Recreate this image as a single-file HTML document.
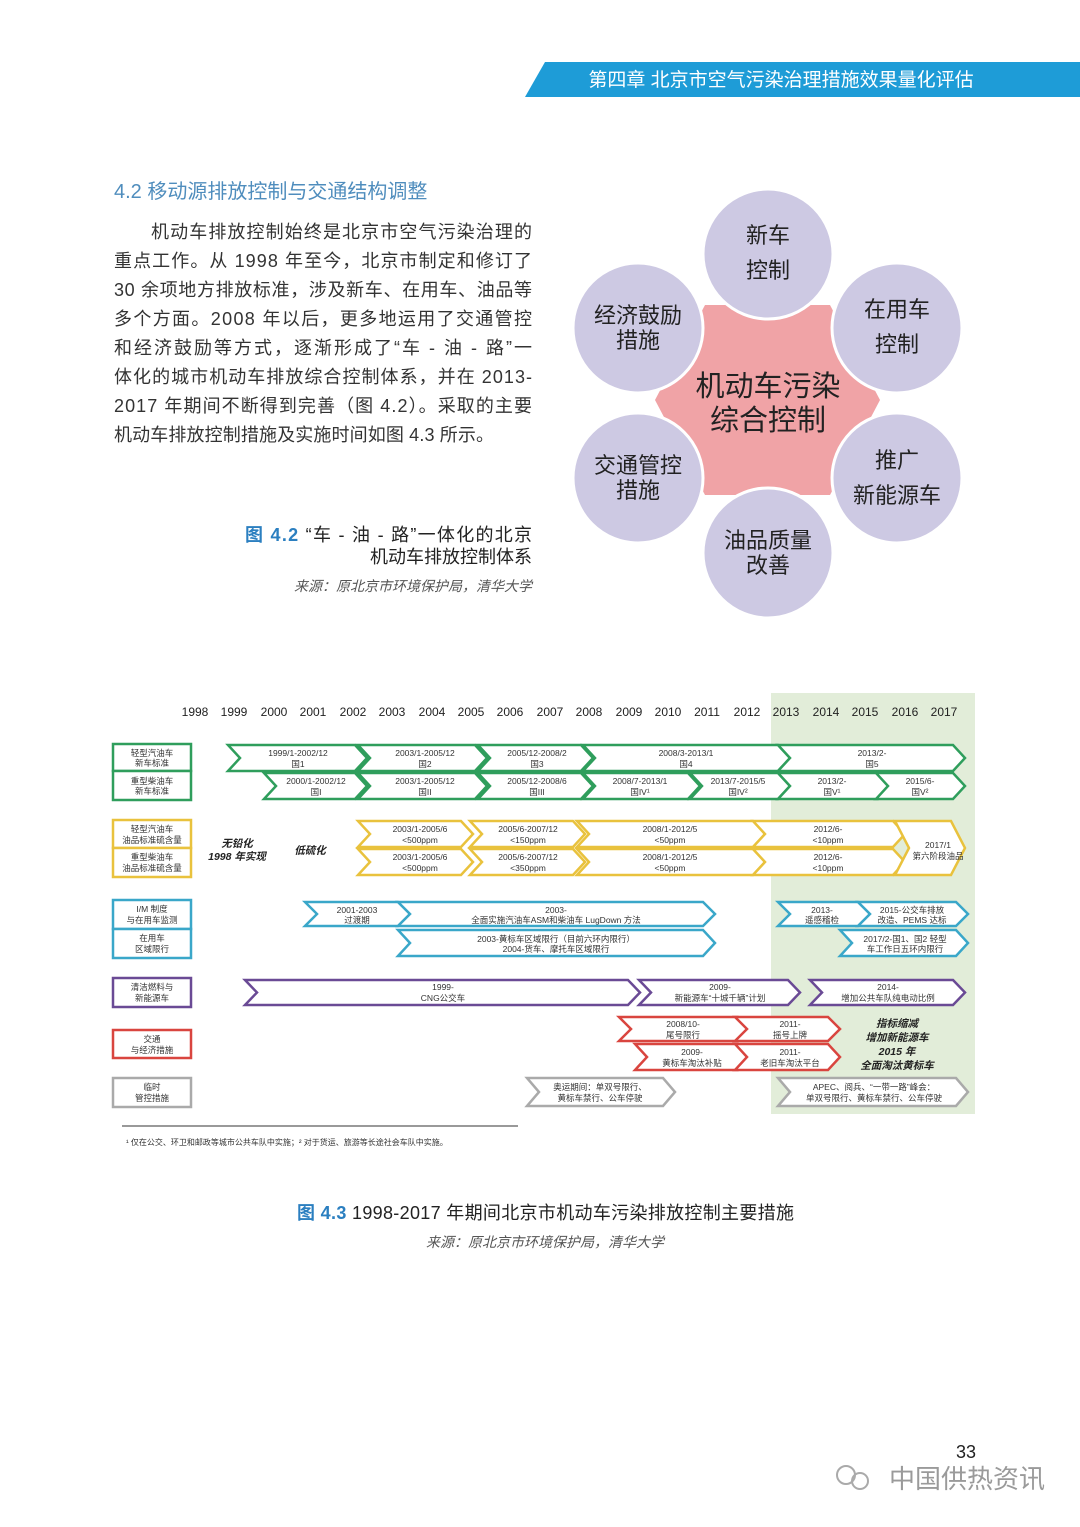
<!DOCTYPE html>
<html><head><meta charset="utf-8"><style>
body{margin:0;background:#fff}
svg{display:block}
text{font-family:"Liberation Sans","Noto Sans CJK SC",sans-serif}
.s{font-size:8.5px;fill:#333;text-anchor:middle}
.lb{font-size:8.5px;fill:#333;text-anchor:middle}
.y{font-size:12px;fill:#222;text-anchor:middle}
.b{font-size:18px;fill:#333}
.g{fill:#fff;stroke:#2f9e5c;stroke-width:2.5}
.o{fill:#fff;stroke:#e9c23d;stroke-width:2.5}
.c{fill:#fff;stroke:#3aa7c9;stroke-width:2.5}
.p{fill:#fff;stroke:#6a4a95;stroke-width:2.5}
.r{fill:#fff;stroke:#d9453f;stroke-width:2.5}
.k{fill:#fff;stroke:#aaa;stroke-width:2.5}
.ft{font-size:22px;fill:#222;text-anchor:middle}
</style></head><body>
<svg width="1080" height="1527" viewBox="0 0 1080 1527">
<polygon points="545,62 1080,62 1080,97 525,97" fill="#1e9cd7"/>
<text x="781" y="86" font-size="19" fill="#fff" text-anchor="middle">第四章 北京市空气污染治理措施效果量化评估</text>

<text x="114" y="198" font-size="20" fill="#4f8dbd">4.2 移动源排放控制与交通结构调整</text>
<text class="b" x="151" y="238" textLength="381">机动车排放控制始终是北京市空气污染治理的</text>
<text class="b" x="114" y="267" textLength="418">重点工作。从 1998 年至今，北京市制定和修订了</text>
<text class="b" x="114" y="296" textLength="418">30 余项地方排放标准，涉及新车、在用车、油品等</text>
<text class="b" x="114" y="325" textLength="418">多个方面。2008 年以后，更多地运用了交通管控</text>
<text class="b" x="114" y="354" textLength="418">和经济鼓励等方式，逐渐形成了“车 - 油 - 路”一</text>
<text class="b" x="114" y="383" textLength="418">体化的城市机动车排放综合控制体系，并在 2013-</text>
<text class="b" x="114" y="412" textLength="418">2017 年期间不断得到完善（图 4.2）。采取的主要</text>
<text class="b" x="114" y="441" textLength="380">机动车排放控制措施及实施时间如图 4.3 所示。</text>

<text x="245" y="541" font-size="18" fill="#222" textLength="287"><tspan fill="#2b7fc0" font-weight="bold">图 4.2</tspan>  “车 - 油 - 路”一体化的北京</text>
<text x="532" y="563" font-size="18" fill="#222" text-anchor="end">机动车排放控制体系</text>
<text x="532" y="591" font-size="14" fill="#555" text-anchor="end" font-style="italic" font-family="Liberation Serif,Noto Serif CJK SC,serif">来源：原北京市环境保护局，清华大学</text>

<polygon points="655,400 705,305 830,305 880,400 830,495 705,495" fill="#f0a3a6"/>
<g fill="#cdc9e3" stroke="#fff" stroke-width="3">
<circle cx="768" cy="254" r="65"/><circle cx="897" cy="328" r="65"/><circle cx="897" cy="478" r="65"/>
<circle cx="768" cy="553" r="65"/><circle cx="638" cy="478" r="65"/><circle cx="638" cy="328" r="65"/>
</g>
<text class="ft" x="768" y="243">新车</text><text class="ft" x="768" y="278">控制</text>
<text class="ft" x="897" y="317">在用车</text><text class="ft" x="897" y="352">控制</text>
<text class="ft" x="897" y="468">推广</text><text class="ft" x="897" y="503">新能源车</text>
<text class="ft" x="768" y="548">油品质量</text><text class="ft" x="768" y="573">改善</text>
<text class="ft" x="638" y="323">经济鼓励</text><text class="ft" x="638" y="348">措施</text>
<text class="ft" x="638" y="473">交通管控</text><text class="ft" x="638" y="498">措施</text>
<text x="768" y="396" font-size="29" fill="#222" text-anchor="middle">机动车污染</text>
<text x="768" y="430" font-size="29" fill="#222" text-anchor="middle">综合控制</text>

<rect x="771" y="693" width="204" height="421" fill="#e2edd9"/>
<g class="y">
<text class="y" x="195" y="716">1998</text><text class="y" x="234" y="716">1999</text><text class="y" x="274" y="716">2000</text><text class="y" x="313" y="716">2001</text><text class="y" x="353" y="716">2002</text><text class="y" x="392" y="716">2003</text><text class="y" x="432" y="716">2004</text><text class="y" x="471" y="716">2005</text><text class="y" x="510" y="716">2006</text><text class="y" x="550" y="716">2007</text><text class="y" x="589" y="716">2008</text><text class="y" x="629" y="716">2009</text><text class="y" x="668" y="716">2010</text><text class="y" x="707" y="716">2011</text><text class="y" x="747" y="716">2012</text><text class="y" x="786" y="716">2013</text><text class="y" x="826" y="716">2014</text><text class="y" x="865" y="716">2015</text><text class="y" x="905" y="716">2016</text><text class="y" x="944" y="716">2017</text>
</g>

<rect class="g" x="113" y="744" width="78" height="27"/><rect class="g" x="113" y="771" width="78" height="29"/>
<text class="lb" x="152" y="756">轻型汽油车</text><text class="lb" x="152" y="766">新车标准</text>
<text class="lb" x="152" y="784">重型柴油车</text><text class="lb" x="152" y="794">新车标准</text>
<rect class="o" x="113" y="820" width="78" height="28"/><rect class="o" x="113" y="848" width="78" height="29"/>
<text class="lb" x="152" y="832">轻型汽油车</text><text class="lb" x="152" y="843">油品标准硫含量</text>
<text class="lb" x="152" y="860">重型柴油车</text><text class="lb" x="152" y="871">油品标准硫含量</text>
<rect class="c" x="113" y="900" width="78" height="29"/><rect class="c" x="113" y="929" width="78" height="29"/>
<text class="lb" x="152" y="912">I/M 制度</text><text class="lb" x="152" y="923">与在用车监测</text>
<text class="lb" x="152" y="941">在用车</text><text class="lb" x="152" y="952">区域限行</text>
<rect class="p" x="113" y="978" width="78" height="29"/>
<text class="lb" x="152" y="990">清洁燃料与</text><text class="lb" x="152" y="1001">新能源车</text>
<rect class="r" x="113" y="1030" width="78" height="28"/>
<text class="lb" x="152" y="1042">交通</text><text class="lb" x="152" y="1053">与经济措施</text>
<rect class="k" x="113" y="1078" width="78" height="29"/>
<text class="lb" x="152" y="1090">临时</text><text class="lb" x="152" y="1101">管控措施</text>

<polygon class="g" points="228,745 355,745 367,758 355,771 228,771 240,758"/>
<polygon class="g" points="358,745 475,745 487,758 475,771 358,771 370,758"/>
<polygon class="g" points="478,745 581,745 593,758 581,771 478,771 490,758"/>
<polygon class="g" points="583,745 778,745 790,758 778,771 583,771 595,758"/>
<polygon class="g" points="778,745 953,745 965,758 953,771 778,771 790,758"/>
<text class="s" x="298" y="756">1999/1-2002/12</text><text class="s" x="298" y="767">国1</text>
<text class="s" x="425" y="756">2003/1-2005/12</text><text class="s" x="425" y="767">国2</text>
<text class="s" x="537" y="756">2005/12-2008/2</text><text class="s" x="537" y="767">国3</text>
<text class="s" x="686" y="756">2008/3-2013/1</text><text class="s" x="686" y="767">国4</text>
<text class="s" x="872" y="756">2013/2-</text><text class="s" x="872" y="767">国5</text>
<polygon class="g" points="264,773 355,773 367,786 355,799 264,799 276,786"/>
<polygon class="g" points="358,773 475,773 487,786 475,799 358,799 370,786"/>
<polygon class="g" points="478,773 581,773 593,786 581,799 478,799 490,786"/>
<polygon class="g" points="583,773 688,773 700,786 688,799 583,799 595,786"/>
<polygon class="g" points="690,773 778,773 790,786 778,799 690,799 702,786"/>
<polygon class="g" points="778,773 878,773 890,786 878,799 778,799 790,786"/>
<polygon class="g" points="876,773 953,773 965,786 953,799 876,799 888,786"/>
<text class="s" x="316" y="784">2000/1-2002/12</text><text class="s" x="316" y="795">国I</text>
<text class="s" x="425" y="784">2003/1-2005/12</text><text class="s" x="425" y="795">国II</text>
<text class="s" x="537" y="784">2005/12-2008/6</text><text class="s" x="537" y="795">国III</text>
<text class="s" x="640" y="784">2008/7-2013/1</text><text class="s" x="640" y="795">国IV¹</text>
<text class="s" x="738" y="784">2013/7-2015/5</text><text class="s" x="738" y="795">国IV²</text>
<text class="s" x="832" y="784">2013/2-</text><text class="s" x="832" y="795">国V¹</text>
<text class="s" x="920" y="784">2015/6-</text><text class="s" x="920" y="795">国V²</text>

<text x="237" y="847" font-size="10.5" font-weight="bold" font-style="italic" fill="#222" text-anchor="middle">无铅化</text>
<text x="237" y="860" font-size="10.5" font-weight="bold" font-style="italic" fill="#222" text-anchor="middle">1998 年实现</text>
<text x="310" y="854" font-size="10.5" font-weight="bold" font-style="italic" fill="#222" text-anchor="middle">低硫化</text>
<polygon class="o" points="358,821 461,821 473,834 461,847 358,847 370,834"/>
<polygon class="o" points="470,821 573,821 585,834 573,847 470,847 482,834"/>
<polygon class="o" points="577,821 753,821 765,834 753,847 577,847 589,834"/>
<polygon class="o" points="753,821 893,821 905,834 893,847 753,847 765,834"/>
<polygon class="o" points="358,849 461,849 473,862 461,875 358,875 370,862"/>
<polygon class="o" points="470,849 573,849 585,862 573,875 470,875 482,862"/>
<polygon class="o" points="577,849 753,849 765,862 753,875 577,875 589,862"/>
<polygon class="o" points="753,849 893,849 905,862 893,875 753,875 765,862"/>
<polygon class="o" points="895,821 951,821 965,848 951,875 895,875 909,848"/>
<text class="s" x="420" y="832">2003/1-2005/6</text><text class="s" x="420" y="843">&lt;500ppm</text>
<text class="s" x="528" y="832">2005/6-2007/12</text><text class="s" x="528" y="843">&lt;150ppm</text>
<text class="s" x="670" y="832">2008/1-2012/5</text><text class="s" x="670" y="843">&lt;50ppm</text>
<text class="s" x="828" y="832">2012/6-</text><text class="s" x="828" y="843">&lt;10ppm</text>
<text class="s" x="420" y="860">2003/1-2005/6</text><text class="s" x="420" y="871">&lt;500ppm</text>
<text class="s" x="528" y="860">2005/6-2007/12</text><text class="s" x="528" y="871">&lt;350ppm</text>
<text class="s" x="670" y="860">2008/1-2012/5</text><text class="s" x="670" y="871">&lt;50ppm</text>
<text class="s" x="828" y="860">2012/6-</text><text class="s" x="828" y="871">&lt;10ppm</text>
<text class="s" x="938" y="848">2017/1</text><text class="s" x="938" y="859">第六阶段油品</text>

<polygon class="c" points="305,902 398,902 410,914 398,926 305,926 317,914"/>
<polygon class="c" points="398,902 703,902 715,914 703,926 398,926 410,914"/>
<polygon class="c" points="778,902 858,902 870,914 858,926 778,926 790,914"/>
<polygon class="c" points="858,902 956,902 968,914 956,926 858,926 870,914"/>
<polygon class="c" points="398,930 703,930 715,943 703,956 398,956 410,943"/>
<polygon class="c" points="840,930 956,930 968,943 956,956 840,956 852,943"/>
<text class="s" x="357" y="913">2001-2003</text><text class="s" x="357" y="923">过渡期</text>
<text class="s" x="556" y="913">2003-</text><text class="s" x="556" y="923">全面实施汽油车ASM和柴油车 LugDown 方法</text>
<text class="s" x="822" y="913">2013-</text><text class="s" x="822" y="923">遥感稽检</text>
<text class="s" x="912" y="913">2015-公交车排放</text><text class="s" x="912" y="923">改造、PEMS 达标</text>
<text class="s" x="556" y="942">2003-黄标车区域限行（目前六环内限行）</text><text class="s" x="556" y="952">2004-货车、摩托车区域限行</text>
<text class="s" x="905" y="942">2017/2-国1、国2 轻型</text><text class="s" x="905" y="952">车工作日五环内限行</text>

<polygon class="p" points="245,980 628,980 640,992.5 628,1005 245,1005 257,992.5"/>
<polygon class="p" points="639,980 788,980 800,992.5 788,1005 639,1005 651,992.5"/>
<polygon class="p" points="810,980 953,980 965,992.5 953,1005 810,1005 822,992.5"/>
<text class="s" x="443" y="990">1999-</text><text class="s" x="443" y="1001">CNG公交车</text>
<text class="s" x="720" y="990">2009-</text><text class="s" x="720" y="1001">新能源车“十城千辆”计划</text>
<text class="s" x="888" y="990">2014-</text><text class="s" x="888" y="1001">增加公共车队纯电动比例</text>

<polygon class="r" points="619,1017 738,1017 750,1029 738,1041 619,1041 631,1029"/>
<polygon class="r" points="735,1017 828,1017 840,1029 828,1041 735,1041 747,1029"/>
<polygon class="r" points="635,1044 738,1044 750,1057 738,1070 635,1070 647,1057"/>
<polygon class="r" points="735,1044 828,1044 840,1057 828,1070 735,1070 747,1057"/>
<text class="s" x="683" y="1027">2008/10-</text><text class="s" x="683" y="1038">尾号限行</text>
<text class="s" x="790" y="1027">2011-</text><text class="s" x="790" y="1038">摇号上牌</text>
<text class="s" x="692" y="1055">2009-</text><text class="s" x="692" y="1066">黄标车淘汰补贴</text>
<text class="s" x="790" y="1055">2011-</text><text class="s" x="790" y="1066">老旧车淘汰平台</text>
<g font-size="10.5" font-weight="bold" font-style="italic" fill="#222" text-anchor="middle">
<text x="897" y="1027">指标缩减</text><text x="897" y="1041">增加新能源车</text><text x="897" y="1055">2015 年</text><text x="897" y="1069">全面淘汰黄标车</text>
</g>

<polygon class="k" points="527,1078 663,1078 675,1092 663,1106 527,1106 539,1092"/>
<polygon class="k" points="778,1078 956,1078 968,1092 956,1106 778,1106 790,1092"/>
<text class="s" x="600" y="1090">奥运期间：单双号限行、</text><text class="s" x="600" y="1101">黄标车禁行、公车停驶</text>
<text class="s" x="874" y="1090">APEC、阅兵、“一带一路”峰会：</text><text class="s" x="874" y="1101">单双号限行、黄标车禁行、公车停驶</text>

<line x1="122" y1="1126" x2="518" y2="1126" stroke="#333" stroke-width="1"/>
<text x="126" y="1145" font-size="8" fill="#333">¹ 仅在公交、环卫和邮政等城市公共车队中实施；² 对于货运、旅游等长途社会车队中实施。</text>

<text x="297" y="1219" font-size="18" fill="#222" textLength="497"><tspan fill="#2b7fc0" font-weight="bold">图 4.3</tspan> 1998-2017 年期间北京市机动车污染排放控制主要措施</text>
<text x="545" y="1247" font-size="14" fill="#555" text-anchor="middle" font-style="italic" font-family="Liberation Serif,Noto Serif CJK SC,serif">来源：原北京市环境保护局，清华大学</text>

<text x="966" y="1458" font-size="18" fill="#222" text-anchor="middle">33</text>
<circle cx="846" cy="1475" r="9" fill="none" stroke="#aaa" stroke-width="2"/>
<circle cx="860" cy="1481" r="8" fill="none" stroke="#aaa" stroke-width="2"/>
<text x="1045" y="1488" font-size="26" fill="#9a9a9a" text-anchor="end">中国供热资讯</text>
</svg>
</body></html>
